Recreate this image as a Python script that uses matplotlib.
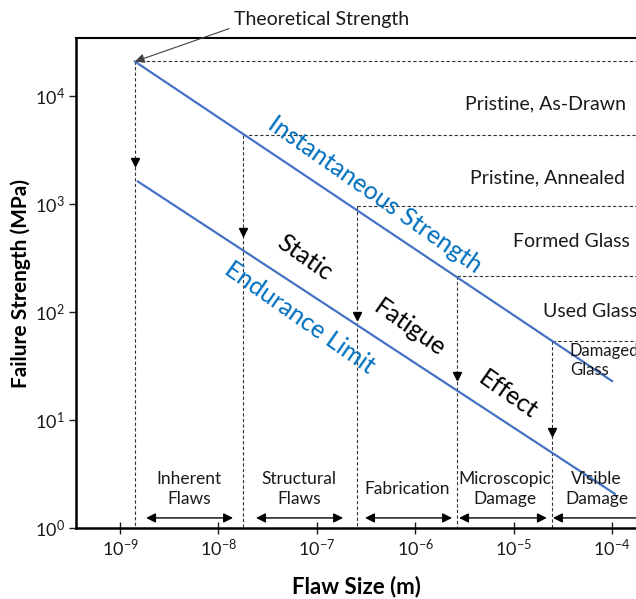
import matplotlib
matplotlib.use("Agg")
import matplotlib.pyplot as plt

plt.rcParams["font.family"] = ["Lato", "DejaVu Sans"]
plt.rcParams["mathtext.fontset"] = "custom"
plt.rcParams["mathtext.rm"] = "Lato"
plt.rcParams["mathtext.it"] = "Lato:italic"
plt.rcParams["mathtext.bf"] = "Lato:bold"

LINE_BLUE = "#4472C4"
TEXT_BLUE = "#0070C0"

# strength lines (flaw size in m, strength in MPa)
inst_flaw = [1.42e-9, 1.0e-4]
inst_strength = [2.1e4, 23]
endur_flaw = [1.52e-9, 1.07e-4]
endur_strength = [1625, 2.07]

# region boundaries on the instantaneous line
bound_flaw = [1.42e-9, 1.78e-8, 2.56e-7, 2.66e-6, 2.45e-5]
bound_strength = [21100, 4350, 953, 218, 54.4]
# where the static-fatigue drop arrows end
drop_strength = [2440, 558, 92.9, 25.8, 7.78]

glass_labels = ["Pristine, As-Drawn", "Pristine, Annealed", "Formed Glass",
                "Used Glass", "Damaged\nGlass"]
glass_flaw = [3.2e-6, 3.6e-6, 9.86e-6, 1.99e-5, 3.74e-5]
glass_strength = [8600, 1770, 451, 101, 35.5]

flaw_labels = ["Inherent\nFlaws", "Structural\nFlaws", "Fabrication",
               "Microscopic\nDamage", "Visible\nDamage"]
flaw_center = [5.0e-9, 6.6e-8, 8.3e-7, 8.2e-6, 7.0e-5]
flaw_span = [(1.84e-9, 1.41e-8), (2.41e-8, 1.85e-7), (3.09e-7, 2.37e-6),
             (2.79e-6, 2.18e-5), (2.51e-5, 2.5e-4)]

fig = plt.figure(figsize=(6.36, 5.99), dpi=100)
ax = fig.add_axes([0.1195, 0.1185, 0.8805, 0.818])
ax.set_xscale("log")
ax.set_yscale("log")
ax.set_xlim(10 ** -9.447, 10 ** -3.756)
ax.set_ylim(1, 10 ** 4.54)

ax.plot(inst_flaw, inst_strength, color=LINE_BLUE, lw=1.6, zorder=3)
ax.plot(endur_flaw, endur_strength, color=LINE_BLUE, lw=1.6, zorder=3)

xmax = ax.get_xlim()[1]
for fx, sy, dy in zip(bound_flaw, bound_strength, drop_strength):
    ax.plot([fx, xmax * 2], [sy, sy], ls=(0, (3, 2)), color="0.2", lw=0.8,
            clip_on=False, zorder=2)
    ax.plot([fx, fx], [sy, 1], ls=(0, (3, 2)), color="0.2", lw=0.8, zorder=2)
    ax.plot(fx, dy, marker="v", color="black", ms=6, zorder=4)

# the damaged-glass label runs past the right edge of the figure
for lab, fx, sy in zip(glass_labels, glass_flaw, glass_strength):
    fs = 12 if "Damaged" in lab else 14
    ax.text(fx, sy, lab, ha="left", va="center", fontsize=fs, color="0.1",
            linespacing=1.2)

for lab, fc, (a, b) in zip(flaw_labels, flaw_center, flaw_span):
    ax.text(fc, 2.3, lab, ha="center", va="center", fontsize=12.5,
            color="0.1", linespacing=1.25)
    ax.annotate("", xy=(a, 1.24), xytext=(b, 1.24),
                arrowprops=dict(arrowstyle="<|-|>", color="black", lw=1.0,
                                mutation_scale=14, shrinkA=0, shrinkB=0),
                annotation_clip=False)

ax.text(3.9e-7, 1233, "Instantaneous Strength", color=TEXT_BLUE, fontsize=18,
        rotation=-35, ha="center", va="center", rotation_mode="anchor")
ax.text(6.75e-8, 89, "Endurance Limit", color=TEXT_BLUE, fontsize=18,
        rotation=-35, ha="center", va="center", rotation_mode="anchor")
for lab, fx, sy in [("Static", 7.6e-8, 321), ("Fatigue", 8.85e-7, 71.8),
                    ("Effect", 8.77e-6, 17.1)]:
    ax.text(fx, sy, lab, color="black", fontsize=18, rotation=-35,
            ha="center", va="center", rotation_mode="anchor")

ax.annotate("Theoretical Strength", xy=(inst_flaw[0], inst_strength[0]),
            xytext=(1.13e-7, 51000), ha="center", va="center", fontsize=14,
            color="0.1", annotation_clip=False,
            arrowprops=dict(arrowstyle="-|>", color="0.25", lw=0.8,
                            mutation_scale=14, shrinkA=2, shrinkB=0,
                            relpos=(0.0, 0.1)))

ax.spines["right"].set_visible(False)
ax.spines["left"].set_linewidth(1.8)
ax.spines["bottom"].set_linewidth(1.8)
ax.spines["top"].set_linewidth(1.5)
ax.minorticks_off()
ax.set_xticks([1e-9, 1e-8, 1e-7, 1e-6, 1e-5, 1e-4])
ax.set_yticks([1, 10, 100, 1000, 10000])
ax.tick_params(axis="x", direction="inout", length=8, width=1, labelsize=13,
               pad=3, colors="0.1")
ax.tick_params(axis="y", direction="out", length=5, width=1, labelsize=13,
               pad=3, colors="0.1")

ax.set_xlabel("Flaw Size (m)", fontsize=16, fontweight="bold", labelpad=12)
ax.set_ylabel("Failure Strength (MPa)", fontsize=15, fontweight="bold",
              labelpad=3)

fig.savefig("out.png", dpi=100)
